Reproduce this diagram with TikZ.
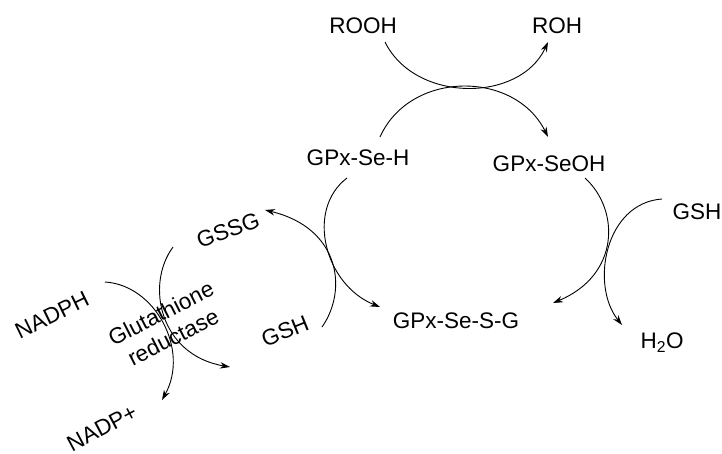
\documentclass[tikz,border=0pt]{standalone}
\usepackage{fontspec}
\setmainfont{Liberation Sans}
\usetikzlibrary{arrows.meta}
\begin{document}
\begin{tikzpicture}[x=1pt,y=-1pt,
  lbl/.style={inner sep=0pt,font=\fontsize{22.5}{27}\selectfont},
  rxa/.style={line width=0.9pt,-{Stealth[length=10pt,width=6.5pt]}}]
\useasboundingbox (0,0) rectangle (722,453);
% labels
\node[lbl] (rooh) at (363,26) {ROOH};
\node[lbl] (roh) at (557,26) {ROH};
\node[lbl] (gpxseh) at (358,158) {GPx-Se-H};
\node[lbl] (gpxseoh) at (549,164) {GPx-SeOH};
\node[lbl] (gshr) at (697,212) {GSH};
\node[lbl] (gpxsesg) at (456,321) {GPx-Se-S-G};
\node[lbl] (h2o) at (662,343) {H\textsubscript{2}O};
\node[lbl,rotate=20] (gssg) at (228,230) {GSSG};
\node[lbl,rotate=22] (gshl) at (285,331) {GSH};
\node[lbl,rotate=26] (nadph) at (52,315) {NADPH};
\node[lbl,rotate=28] (nadp) at (102,428) {NADP+};
\node[lbl,rotate=27,align=center] (gr) at (167,325) {Glutathione\\reductase};
% curve end points
\coordinate (a1) at (385,42);  \coordinate (a2) at (548,42);
\coordinate (b1) at (380,137); \coordinate (b2) at (548,137);
\coordinate (c1) at (347,178); \coordinate (c2) at (380,307);
\coordinate (d1) at (322,327); \coordinate (d2) at (265,210);
\coordinate (e1) at (585,178); \coordinate (e2) at (553,303);
\coordinate (f1) at (662,199); \coordinate (f2) at (622,325);
\coordinate (g1) at (173,247); \coordinate (g2) at (230,367);
\coordinate (h1) at (105,282); \coordinate (h2) at (162,400);
% top crossing
\draw[rxa] (a1) .. controls (415,103) and (520,103) .. (a2);
\draw[rxa] (b1) .. controls (410,70) and (515,70) .. (b2);
% left crossing (GPx-Se-H / GSH)
\draw[rxa] (c1) .. controls (305,210) and (325,285) .. (c2);
\draw[rxa] (d1) .. controls (348,290) and (340,228) .. (d2);
% right crossing (GPx-SeOH / GSH)
\draw[rxa] (e1) .. controls (620,210) and (620,275) .. (e2);
\draw[rxa] (f1) .. controls (605,203) and (590,285) .. (f2);
% glutathione reductase crossing
\draw[rxa] (g1) .. controls (145,285) and (160,355) .. (g2);
\draw[rxa] (h1) .. controls (155,285) and (190,350) .. (h2);
\end{tikzpicture}
\end{document}
